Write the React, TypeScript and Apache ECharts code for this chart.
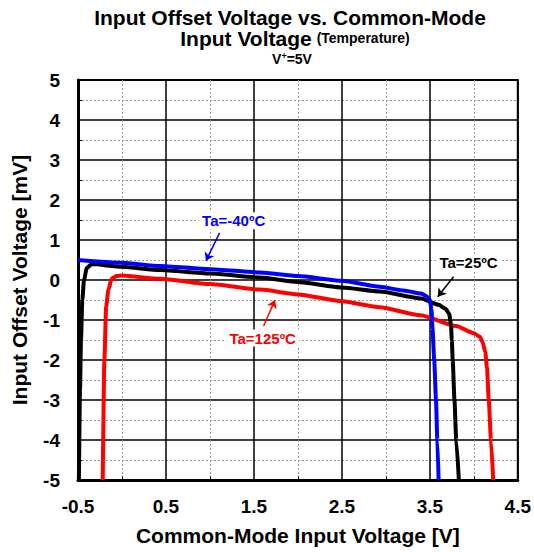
import React, { useEffect, useRef } from "react";
import * as echarts from "echarts";

const FONT = '"Liberation Sans", Arial, Helvetica, sans-serif';

// Curves: [common-mode input voltage (V), input offset voltage (mV)]
const ta40: number[][] = [
  [-0.5, 0.5], [0, 0.43], [0.43, 0.35], [1.0, 0.27], [1.57, 0.19], [2.0, 0.1],
  [2.5, -0.02], [2.93, -0.17], [3.2, -0.26], [3.4, -0.34], [3.46, -0.4],
  [3.5, -0.5], [3.52, -0.75], [3.53, -1.2], [3.55, -2.0], [3.57, -3.0],
  [3.585, -4.0], [3.6, -5.0],
];
const ta25: number[][] = [
  [-0.49, -5], [-0.477, -2.75], [-0.466, -1.5], [-0.451, -0.5], [-0.432, 0],
  [-0.4, 0.3], [-0.344, 0.4], [0, 0.33], [0.43, 0.25], [1.0, 0.16],
  [1.57, 0.06], [2.0, -0.05], [2.5, -0.19], [2.93, -0.29], [3.4, -0.46],
  [3.6, -0.62], [3.68, -0.72], [3.72, -0.85], [3.74, -1.1], [3.75, -1.5],
  [3.76, -2.0], [3.78, -3.0], [3.8, -4.0], [3.83, -5.0],
];
const ta125: number[][] = [
  [-0.219, -5], [-0.2, -2], [-0.18, -0.67], [-0.155, -0.25], [-0.117, 0.04],
  [-0.06, 0.1], [0.0, 0.11], [0.43, 0.03], [1.0, -0.1], [1.57, -0.24],
  [2.0, -0.36], [2.5, -0.53], [2.93, -0.68], [3.39, -0.88], [3.8, -1.15],
  [4.0, -1.33], [4.07, -1.42], [4.1, -1.55], [4.13, -1.8], [4.15, -2.2],
  [4.17, -3.0], [4.195, -4.0], [4.22, -5.0],
];

const seriesNames = ["Ta=-40ºC", "Ta=25ºC", "Ta=125ºC"];
const seriesColors = ["#0000ff", "#000000", "#ff0000"];
// label anchor [x, y] and arrow [from, to] in data units
const labelAt: number[][] = [[1.27, 1.48], [3.94, 0.43], [1.6, -1.45]];
const arrowFrom: number[][] = [[1.11, 1.18], [3.77, 0.08], [1.61, -1.15]];
const arrowTo: number[][] = [[0.955, 0.48], [3.59, -0.42], [1.74, -0.5]];

const xMin = -0.5, xMax = 4.5, xStep = 1;
const yMin = -5, yMax = 5, yStep = 1;

export default function App() {
  const ref = useRef<HTMLDivElement>(null);
  useEffect(() => {
    if (!ref.current) return;
    const chart = echarts.init(ref.current, null, { renderer: "svg" });
    const datasets = [ta40, ta25, ta125];
    const series: any[] = datasets.map((d, i) => ({
      type: "line",
      name: seriesNames[i],
      data: d,
      showSymbol: false,
      smooth: 0.2,
      smoothMonotone: "x",
      lineStyle: { color: seriesColors[i], width: 4 },
      itemStyle: { color: seriesColors[i] },
      z: 3 + (2 - i),
      markPoint: {
        silent: true,
        symbol: "circle",
        symbolSize: 1,
        itemStyle: { color: "rgba(0,0,0,0)" },
        label: {
          show: true,
          position: "inside",
          formatter: seriesNames[i],
          color: seriesColors[i],
          fontFamily: FONT,
          fontWeight: "bold",
          fontSize: 15,
          backgroundColor: "#fff",
          padding: [1, 3],
        },
        data: [{ coord: labelAt[i] }],
      },
      markLine: {
        silent: true,
        symbol: ["none", "arrow"],
        symbolSize: 8,
        label: { show: false },
        lineStyle: { color: seriesColors[i], width: 1.5, type: "solid" },
        data: [[{ coord: arrowFrom[i] }, { coord: arrowTo[i] }]],
      },
    }));

    chart.setOption({
      animation: false,
      backgroundColor: "#fff",
      textStyle: { fontFamily: FONT },
      grid: {
        left: 78, top: 80, right: 16, bottom: 72,
        show: true, borderColor: "#000", borderWidth: 2, backgroundColor: "transparent",
      },
      graphic: [
        {
          type: "text", x: 290, y: 17,
          style: {
            text: "Input Offset Voltage vs. Common-Mode",
            font: `bold 21px ${FONT}`, fill: "#000",
            textAlign: "center", textVerticalAlign: "middle",
          },
        },
        {
          type: "text", x: 295, y: 38,
          style: {
            text: "{a|Input Voltage}{b|(Temperature)}",
            fill: "#000", textAlign: "center", textVerticalAlign: "middle",
            rich: {
              a: { fontFamily: FONT, fontWeight: "bold", fontSize: 21, fill: "#000", padding: [0, 5, 0, 0] },
              b: { fontFamily: FONT, fontWeight: "bold", fontSize: 14, fill: "#000" },
            },
          },
        },
        {
          type: "text", x: 292, y: 59,
          style: {
            text: "{a|V}{s|+}{a|=5V}",
            fill: "#000", textAlign: "center", textVerticalAlign: "middle",
            rich: {
              a: { fontFamily: FONT, fontWeight: "bold", fontSize: 14, fill: "#000", lineHeight: 15 },
              s: { fontFamily: FONT, fontWeight: "bold", fontSize: 9, fill: "#000", verticalAlign: "top", lineHeight: 15 },
            },
          },
        },
      ],
      xAxis: {
        type: "value",
        min: xMin, max: xMax, interval: xStep,
        name: "Common-Mode Input Voltage [V]",
        nameLocation: "middle",
        nameGap: 45,
        nameTextStyle: { fontFamily: FONT, fontWeight: "bold", fontSize: 21, color: "#000" },
        axisLine: { show: true, onZero: false, lineStyle: { color: "#000", width: 3 } },
        axisTick: { show: false },
        minorTick: { show: true, splitNumber: 2, length: -4, lineStyle: { color: "#000", width: 1 } },
        axisLabel: {
          fontFamily: FONT, fontWeight: "bold", fontSize: 19, color: "#000", margin: 17,
          formatter: (v: number) => v.toFixed(1),
        },
        splitLine: { show: true, lineStyle: { color: "#000", width: 1.5 } },
        minorSplitLine: { show: true, lineStyle: { color: "#999", width: 1, type: [2, 2] } },
      },
      yAxis: {
        type: "value",
        min: yMin, max: yMax, interval: yStep,
        name: "Input Offset Voltage [mV]",
        nameLocation: "middle",
        nameGap: 48,
        nameTextStyle: { fontFamily: FONT, fontWeight: "bold", fontSize: 21, color: "#000" },
        axisLine: { show: true, onZero: false, lineStyle: { color: "#000", width: 3 } },
        axisTick: { show: false },
        minorTick: { show: true, splitNumber: 2, length: -4, lineStyle: { color: "#000", width: 1 } },
        axisLabel: { fontFamily: FONT, fontWeight: "bold", fontSize: 19, color: "#000", margin: 18 },
        splitLine: { show: true, lineStyle: { color: "#000", width: 1.5 } },
        minorSplitLine: { show: true, lineStyle: { color: "#999", width: 1, type: [2, 2] } },
      },
      series,
    });
    return () => chart.dispose();
  }, []);
  return (
    <div
      ref={ref}
      style={{ position: "fixed", left: 0, top: 0, width: 534, height: 552, background: "#fff" }}
    />
  );
}
